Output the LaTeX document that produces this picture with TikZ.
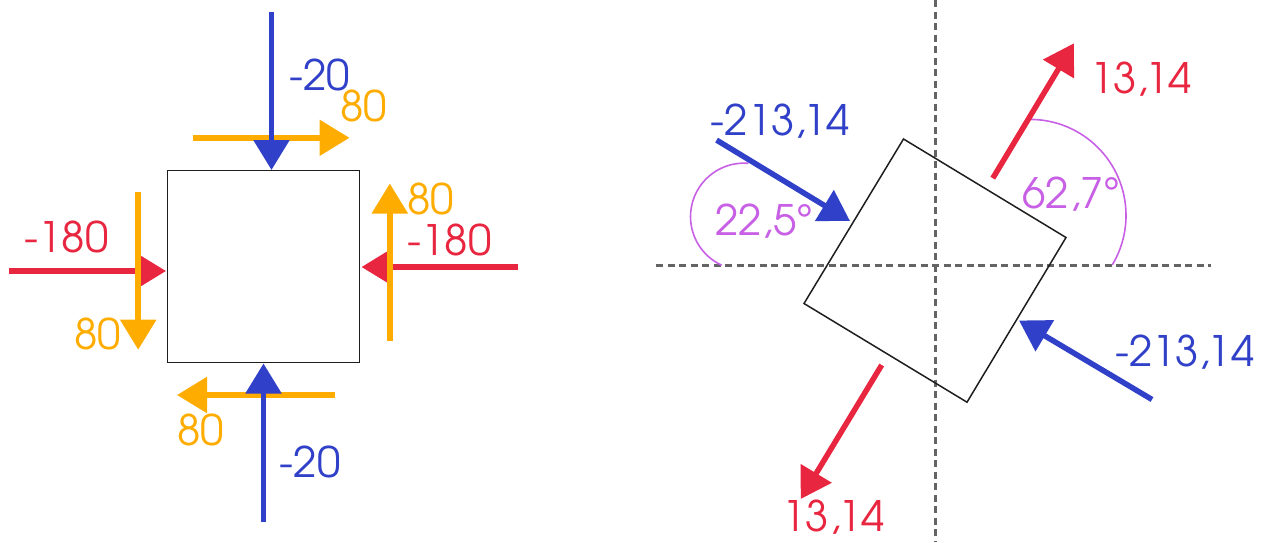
\documentclass[tikz,border=0pt]{standalone}
\usepackage{fontspec}
\IfFontExistsTF{texgyreadventor-regular.otf}{\setmainfont{texgyreadventor-regular.otf}\def\lblsize{42}}{\setmainfont{Poppins}\def\lblsize{44}}
\usetikzlibrary{arrows.meta}
\definecolor{cblue}{RGB}{48,64,200}
\definecolor{cred}{RGB}{232,38,64}
\definecolor{corange}{RGB}{255,172,0}
\definecolor{cpurple}{RGB}{200,96,230}
\definecolor{cgray}{RGB}{100,100,100}
\definecolor{cbox}{RGB}{30,30,30}
\tikzset{
  force/.style={line width=5.5pt, -{Triangle[length=30pt,width=35pt]}},
  fblue/.style={force, cblue},
  fred/.style={force, cred},
  forange/.style={force, corange},
  body/.style={draw=cbox, line width=1.5pt},
  axis/.style={cgray, line width=3pt, dash pattern=on 7pt off 4.5pt},
  anglearc/.style={cpurple, line width=1.6pt},
  lbl/.style={inner sep=0pt, anchor=base west, font=\fontsize{\lblsize}{50}\selectfont},
}
\begin{document}
\begin{tikzpicture}[x=1pt,y=-1pt]
\useasboundingbox (0,0) rectangle (1268,542);

% ---------------- left diagram ----------------
\node[body, minimum size=191.6pt, inner sep=0pt] (sqL) at (263.5,266.5) {};

\coordinate (lrS) at (9,271);      \coordinate (lrE) at (166,271);
\coordinate (rrS) at (518,267);    \coordinate (rrE) at (361.5,267);
\coordinate (toS) at (192.5,137.8); \coordinate (toE) at (349.5,137.8);
\coordinate (loS) at (138.2,192.2); \coordinate (loE) at (138.2,349.7);
\coordinate (roS) at (389.8,341);  \coordinate (roE) at (389.8,183.5);
\coordinate (boS) at (335.3,395);  \coordinate (boE) at (177,395);
\coordinate (tbS) at (271.5,12);   \coordinate (tbE) at (271.5,170);
\coordinate (bbS) at (263.5,522);  \coordinate (bbE) at (263.5,363.5);

\draw[fred] (lrS) -- (lrE);
\draw[fred] (rrS) -- (rrE);
\draw[forange] (toS) -- (toE);
\draw[forange] (loS) -- (loE);
\draw[forange] (roS) -- (roE);
\draw[forange] (boS) -- (boE);
\draw[fblue] (tbS) -- (tbE);
\draw[fblue] (bbS) -- (bbE);

\node[lbl, cblue] (l1) at (289.5,90.7) {-20};
\node[lbl, corange] (l2) at (340.3,121.9) {80};
\node[lbl, cred] (l3) at (24.4,252) {-180};
\node[lbl, corange] (l4) at (73.8,349.7) {80};
\node[lbl, corange] (l5) at (407.4,214.7) {80};
\node[lbl, cred] (l6) at (407.4,255.5) {-180};
\node[lbl, corange] (l7) at (177,445) {80};
\node[lbl, cblue] (l8) at (279.7,477.8) {-20};

% ---------------- right diagram ----------------
\coordinate (vT) at (935,0);   \coordinate (vB) at (935,542);
\coordinate (hL) at (656,265); \coordinate (hR) at (1211,265);
\draw[axis] (vT) -- (vB);
\draw[axis] (hL) -- (hR);

\coordinate (cT) at (903.5,139);
\coordinate (cR) at (1066,237.5);
\coordinate (cB) at (967,402.2);
\coordinate (cL) at (804,303.5);
\draw[cbox, line width=1.5pt, line join=miter] (cT) -- (cR) -- (cB) -- (cL) -- cycle;

\coordinate (aLs) at (748.3,163.3);
\coordinate (aRs) at (1030,119.4);
\draw[anglearc] (aLs) arc[start angle=85.4, end angle=245.3, radius=53.5pt];
\draw[anglearc] (aRs) arc[start angle=90, end angle=-31.1, radius=96pt];

\coordinate (b1S) at (716.6,140.1);  \coordinate (b1E) at (850,221);
\coordinate (b2S) at (1152,399.5);   \coordinate (b2E) at (1019,320.5);
\coordinate (r1S) at (992.8,178.2);  \coordinate (r1E) at (1073.9,43.3);
\coordinate (r2S) at (881.7,365);    \coordinate (r2E) at (800.7,499);
\draw[fblue] (b1S) -- (b1E);
\draw[fblue] (b2S) -- (b2E);
\draw[fred] (r1S) -- (r1E);
\draw[fred] (r2S) -- (r2E);

\node[lbl, cblue] (m1) at (710.6,135) {-213,14};
\node[lbl, cblue] (m2) at (1115,366.7) {-213,14};
\node[lbl, cred] (m3) at (1090,93.4) {13,14};
\node[lbl, cred] (m4) at (782.5,531.7) {13,14};
\node[lbl, cpurple] (m5) at (715,235) {22,5°};
\node[lbl, cpurple] (m6) at (1022.3,208.3) {62,7°};
\end{tikzpicture}
\end{document}
